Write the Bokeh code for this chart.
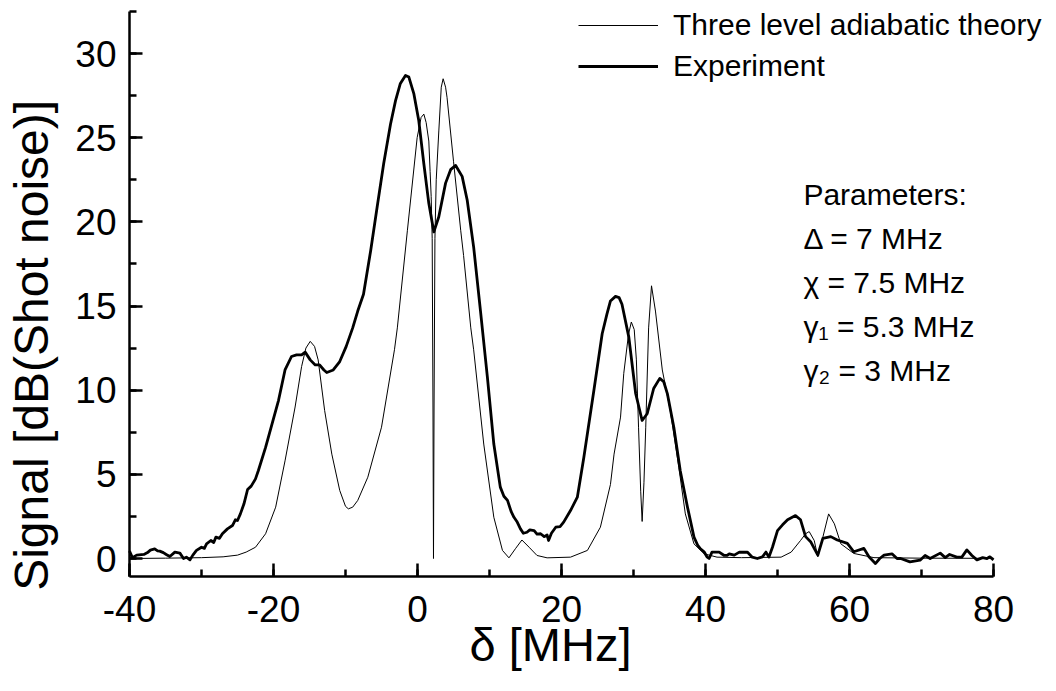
import math
from bokeh.plotting import figure
from bokeh.models import (Range1d, SingleIntervalTicker, Legend, LegendItem, Label,
                          PrintfTickFormatter)
from bokeh.embed import file_html
from bokeh.resources import INLINE

# ---------------- data ----------------
theory_x = [-40, -35, -30, -27, -25, -23.8, -22.5, -21.1, -19.7, -18.4, -17.0, -16.1, -15.5,
            -14.9, -14.3, -13.8, -12.9, -11.9, -10.8, -10.0, -9.6, -9.0, -8.3, -6.9, -5.0,
            -3.2, -2.8, -1.4, -0.05, 0.5, 0.88, 1.2, 1.57, 1.75, 1.9, 2.04, 2.15, 2.22, 2.30,
            2.42, 2.6, 2.96, 3.3, 3.56, 3.9, 4.1, 5.0, 6.0, 6.4, 7.4, 7.8, 9.2, 10.6, 11.8,
            12.7, 13.6, 14.5, 15.5, 16.6, 18.0, 21.25, 23.6, 25.4, 26.8, 27.3, 28.2, 28.65,
            29.3, 29.7, 30.1, 30.4, 30.7, 31.0, 31.2, 31.45, 31.7, 32.1, 32.5, 33.05, 34.0,
            35.1, 36.3, 37.2, 38.4, 39.8, 41.6, 45, 50.5, 51.9, 53.2, 53.9, 54.4, 55.1, 55.6,
            56.3, 57.1, 57.9, 58.8, 60.6, 63.4, 70, 80]
theory_y = [0.0, 0.02, 0.05, 0.1, 0.2, 0.38, 0.67, 1.47, 3.05, 5.8, 9.0, 11.4, 12.5,
            12.9, 12.6, 11.8, 8.8, 6.2, 4.04, 3.1, 2.95, 3.05, 3.45, 4.83, 7.8,
            12.4, 13.7, 19.5, 25.0, 26.2, 26.4, 25.9, 24.8, 23.0, 21.5, 19.0, 9.0, 0.0, 9.0,
            19.0, 22.5, 25.4, 28.0, 28.5, 28.0, 27.4, 23.6, 19.5, 18.0, 13.7, 12.4, 6.8, 2.45, 0.48,
            0.04, 0.58, 1.1, 0.67, 0.18, 0.04, 0.08, 0.48, 1.86, 4.4, 6.2, 8.4, 11.0,
            13.3, 14.05, 13.6, 11.8, 7.8, 4.0, 2.2, 4.5, 7.8, 13.7, 16.2, 14.7, 11.2,
            8.8, 5.4, 2.65, 0.87, 0.28, 0.08, 0.05, 0.08, 0.38, 1.07, 1.47, 1.6, 1.07, 0.1,
            1.27, 2.65, 2.06, 0.87, 0.3, 0.05, 0.02, 0.01]

exp_x = [-40.0, -39.6, -39.0, -38.0, -37.5, -37.1, -36.5, -36.1, -35.8, -35.3, -34.9, -34.4,
         -33.7, -33.0, -32.5, -32.1, -31.6, -31.2, -30.7, -30.0, -29.6, -29.3, -28.7, -28.3,
         -28.0, -27.5, -27.1, -26.4, -25.7, -25.3, -25.0, -24.6, -24.1, -23.6, -23.1, -22.5,
         -22.1, -21.1, -20.2, -19.3, -18.4, -17.5, -16.8, -16.1, -15.6, -14.9, -14.2, -13.6,
         -13.0, -12.6, -11.7, -10.8, -9.9, -9.0, -8.3, -7.5, -6.5, -5.6, -4.7, -3.75, -3.05,
         -2.4, -1.67, -1.2, -0.5, 0.18, 0.88, 1.57, 2.27, 2.96, 3.9, 4.6, 5.3, 6.2, 6.9, 7.8,
         8.75, 9.7, 10.6, 11.5, 12.0, 12.5, 13.0, 13.4, 13.8, 14.3, 14.7, 15.2, 15.6, 16.2,
         16.6, 17.1, 17.6, 18.0, 18.2, 18.6, 19.2, 19.8, 20.3, 21.25, 22.2, 23.1, 24.5, 25.65,
         26.3, 26.8, 27.5, 28.0, 28.4, 29.35, 30.3, 31.2, 31.9, 32.8, 33.65, 34.2, 34.7, 35.6,
         36.5, 37.5, 38.4, 38.9, 39.3, 39.8, 40.2, 40.5, 40.9, 41.9, 42.6, 43.0, 43.3, 44.0,
         44.7, 45.3, 45.8, 46.5, 47.2, 47.9, 48.4, 48.8, 49.3, 50.0, 50.7, 51.4, 52.5, 53.2,
         53.9, 54.6, 55.6, 56.3, 57.4, 58.3, 59.7, 60.6, 62.0, 62.7, 63.6, 64.2, 64.8, 65.9,
         66.6, 67.1, 68.4, 69.8, 70.5, 71.2, 72.6, 73.3, 73.9, 74.9, 75.6, 76.3, 77.0, 77.7,
         78.5, 79.1, 79.5, 80.0]
exp_y = [0.45, 0.05, 0.2, 0.24, 0.35, 0.5, 0.57, 0.45, 0.44, 0.35, 0.24, 0.12,
         0.38, 0.32, 0.0, 0.08, -0.08, 0.2, 0.48, 0.67, 0.6, 0.87, 1.07, 0.95,
         1.27, 1.2, 1.47, 1.76, 1.96, 2.3, 2.26, 2.65, 3.25, 4.1, 4.3, 4.73,
         5.23, 6.6, 8.0, 9.4, 11.2, 12.0, 12.1, 12.1, 12.26, 11.8, 11.5, 11.5,
         11.2, 11.05, 11.2, 11.7, 12.6, 13.7, 14.7, 15.7, 18.3, 20.9, 23.45, 25.8, 27.2,
         28.2, 28.7, 28.6, 27.6, 26.0, 23.45, 21.1, 19.4, 20.3, 22.3, 23.1, 23.35, 22.7, 21.3, 18.5,
         14.7, 10.8, 6.8, 4.24, 3.7, 3.45, 2.8, 2.45, 2.2, 1.76, 1.5, 1.56, 1.7, 1.66,
         1.45, 1.47, 1.3, 1.4, 1.07, 1.5, 1.86, 1.9, 2.16, 2.85, 3.64, 6.0, 10.0, 13.35,
         14.5, 15.3, 15.57, 15.5, 15.1, 13.15, 9.8, 8.2, 8.6, 10.1, 10.7, 10.5, 9.8, 7.8,
         5.2, 3.05, 1.27, 0.8, 0.58, 0.4, 0.1, 0.0, 0.38, 0.38, 0.18, 0.18, 0.28, 0.2,
         0.38, 0.37, 0.38, 0.08, 0.0, 0.1, 0.38, 0.08, 0.67, 1.66, 2.0, 2.3, 2.55, 2.3,
         1.3, 1.0, 0.2, 1.2, 1.3, 1.1, 0.9, 0.4, 0.6, 0.1, -0.3, 0.0, 0.2, 0.28,
         0.0, 0.0, -0.2, -0.1, 0.18, 0.0, 0.32, 0.05, 0.24, 0.08, 0.08, 0.51, 0.18, -0.08,
         0.05, 0.0, 0.1, -0.08]

series_labels = ["Three level adiabatic theory", "Experiment"]
param_lines = ["Parameters:", "\u0394 = 7 MHz", "\u03c7 = 7.5 MHz",
               "\u03b3\u2081 = 5.3 MHz", "\u03b3\u2082 = 3 MHz"]
x_label = "\u03b4 [MHz]"
y_label = "Signal [dB(Shot noise)]"

FONT = "Liberation Sans"

# axis extents (data units)
X_MIN, X_MAX = -40, 80
Y_MIN, Y_MAX = -1.07, 32.52

# ---------------- figure (frame = whole canvas, axes at fixed locations) ----------------
p = figure(width=1056, height=691, output_backend="svg", toolbar_location=None,
           x_range=Range1d(-57.917, 88.75), y_range=Range1d(-7.901, 33.149),
           min_border=0)
p.outline_line_color = None
p.xgrid.visible = False
p.ygrid.visible = False
p.background_fill_color = "white"
p.border_fill_color = "white"

r_theory = p.line(theory_x, theory_y, line_color="black", line_width=1.0)
r_exp = p.line(exp_x, exp_y, line_color="black", line_width=2.8, line_join="round")

xa = p.xaxis[0]
ya = p.yaxis[0]
xa.fixed_location = Y_MIN
xa.bounds = (X_MIN, X_MAX)
ya.fixed_location = X_MIN
ya.bounds = (Y_MIN, Y_MAX)

for ax, interval in ((xa, 20), (ya, 5)):
    ax.ticker = SingleIntervalTicker(interval=interval, num_minor_ticks=2)
    ax.formatter = PrintfTickFormatter(format="%d")
    ax.axis_line_width = 2.5
    ax.axis_line_color = "black"
    ax.major_tick_line_width = 2.5
    ax.minor_tick_line_width = 2.5
    ax.major_tick_in = 13
    ax.major_tick_out = 0
    ax.minor_tick_in = 7
    ax.minor_tick_out = 0
    ax.major_label_text_font = FONT
    ax.major_label_text_font_size = "37px"
    ax.major_label_text_color = "black"
xa.major_label_standoff = 19
ya.major_label_standoff = 13

# axis titles
p.add_layout(Label(x=18.47, y=-5.11, text=x_label, text_font=FONT, text_font_size="47px",
                   text_align="center", text_baseline="middle", text_color="black"))
p.add_layout(Label(x=-53.6, y=12.66, text=y_label, text_font=FONT, text_font_size="48px",
                   text_align="center", text_baseline="middle", angle=math.pi / 2,
                   text_color="black"))

# parameter block
param_y = [21.65, 19.02, 16.39, 13.76, 11.14]
for t, yy in zip(param_lines, param_y):
    p.add_layout(Label(x=53.6, y=yy, text=t, text_font=FONT, text_font_size="30px",
                       text_align="left", text_baseline="middle", text_color="black"))

legend = Legend(items=[LegendItem(label=series_labels[0], renderers=[r_theory]),
                       LegendItem(label=series_labels[1], renderers=[r_exp])],
                location=(578, 608), glyph_width=80, glyph_height=30, label_height=30,
                label_standoff=15, spacing=7, padding=0, margin=0,
                border_line_color=None, background_fill_alpha=0,
                label_text_font=FONT, label_text_font_size="30px", label_text_color="black")
p.add_layout(legend, "center")

open("out.html", "w").write(file_html(p, INLINE))
